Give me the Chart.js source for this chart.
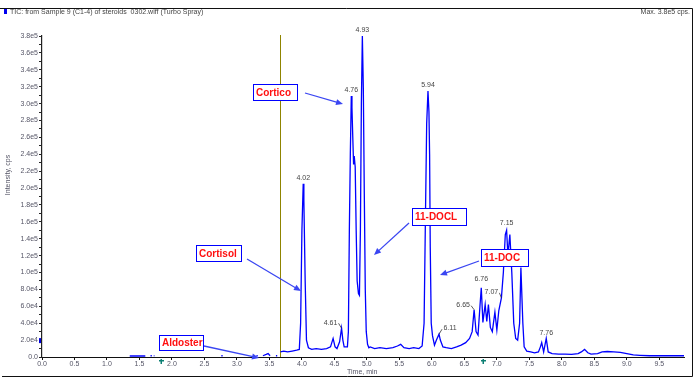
<!DOCTYPE html>
<html>
<head>
<meta charset="utf-8">
<script src="https://cdn.jsdelivr.net/npm/chart.js@4"></script>
<style>
  html, body { margin: 0; padding: 0; background: #fff; }
  #wrap { width: 699px; height: 384px; }
</style>
</head>
<body>
<div id="wrap"><canvas id="tic" width="699" height="384"></canvas></div>
<script>
// retention time (min) and intensity (cps); null = no trace drawn
const times = [
  1.35, 1.45, 1.59, 1.62, 1.67, 1.69, 1.70, 1.72, 1.73, 1.75, 2.76, 2.78, 2.80,
  3.30, 3.32, 3.35, 3.40, 3.45, 3.48, 3.51, 3.53, 3.60, 3.62, 3.64,
  3.67, 3.72, 3.78, 3.85, 3.92, 3.96, 3.98, 4.00, 4.02, 4.03, 4.05, 4.07,
  4.10, 4.15, 4.22, 4.30, 4.38, 4.44, 4.48, 4.51, 4.54, 4.58, 4.61, 4.63,
  4.65, 4.70, 4.715, 4.73, 4.745, 4.76, 4.77, 4.782, 4.795, 4.805, 4.82,
  4.835, 4.85, 4.87, 4.885, 4.90, 4.915, 4.93, 4.945, 4.96, 4.975, 4.99,
  5.01, 5.03, 5.05, 5.12, 5.20, 5.30, 5.40, 5.47, 5.52, 5.57, 5.65, 5.72,
  5.80, 5.85, 5.88, 5.90, 5.92, 5.94, 5.955, 5.965, 5.975, 5.99, 6.01,
  6.04, 6.07, 6.11, 6.13, 6.17, 6.22, 6.30, 6.38, 6.45, 6.52, 6.58, 6.62,
  6.65, 6.68, 6.71, 6.74, 6.76, 6.785, 6.82, 6.845, 6.87, 6.90, 6.93, 6.97,
  7.00, 7.03, 7.07, 7.10, 7.13, 7.15, 7.17, 7.20, 7.23, 7.26, 7.29, 7.32,
  7.35, 7.37, 7.40, 7.42, 7.46, 7.52, 7.58, 7.64, 7.67, 7.69, 7.72, 7.74,
  7.76, 7.79, 7.85, 7.95, 8.05, 8.15, 8.25, 8.30, 8.35, 8.40, 8.45, 8.55,
  8.62, 8.70, 8.80, 8.90, 9.00, 9.10, 9.20, 9.35, 9.50, 9.65, 9.80, 9.88
];
const intensities = [
  1200, 1200, 1200, null, 1500, 1500, null, 1500, 1500, null, 1500, 1500, null,
  1500, 1500, null, 1500, 3000, 4000, 1500, null, 1500, 1500, null,
  6000, 7000, 6000, 7000, 8000, 9000, 40000, 150000, 205000, 185000, 90000, 20000,
  11000, 9000, 10000, 9000, 10000, 12000, 22000, 12000, 10000, 18000, 34000, 20000,
  12000, 12000, 30000, 150000, 240000, 309000, 295000, 262000, 228000, 238000, 225000,
  150000, 90000, 75000, 73000, 150000, 300000, 380000, 318000, 193000, 80000, 30000,
  15000, 11000, 12000, 10000, 11000, 10000, 11000, 13000, 15000, 11000, 10000, 11000,
  10000, 13000, 40000, 160000, 276000, 315000, 290000, 240000, 130000, 40000, 25000,
  14000, 20000, 27000, 20000, 12000, 11000, 10000, 12000, 14000, 17000, 22000, 30000,
  56000, 30000, 26000, 60000, 82000, 41000, 62000, 42000, 62000, 35000, 30000, 53000,
  32000, 55000, 70000, 100000, 145000, 150000, 120000, 145000, 100000, 40000, 22000, 20000,
  40000, 106000, 40000, 12000, 7000, 6000, 5000, 6000, 12000, 17000, 6000, 14000,
  22000, 6000, 4000, 3500, 3500, 3000, 4000, 6000, 9000, 5000, 3500, 4000,
  6000, 6500, 6000, 5500, 4000, 2500, 2000, 1500, 1500, 1500, 1500, 1500
];

// x tick positions (min)
const timeTicks = [0, 0.5, 1, 1.5, 2, 2.5, 3, 3.5, 4, 4.5, 5, 5.5, 6, 6.5, 7, 7.5, 8, 8.5, 9, 9.5];

// labelled peak apexes
const peakTimes = [4.02, 4.61, 4.76, 4.93, 5.94, 6.11, 6.65, 6.76, 7.07, 7.15, 7.76];
const peakHeights = [205000, 34000, 309000, 380000, 315000, 27000, 56000, 82000, 70000, 150000, 22000];

const compounds = ['Aldoster', 'Cortisol', 'Cortico', '11-DOCL', '11-DOC'];
const markerTime = 3.67;

const FONT = '"Liberation Sans", Arial, sans-serif';

// pixel placement of the callout boxes and their arrows
const callouts = {
  'Aldoster': { box: [159, 335, 44, 15], from: [204, 346], to: [259, 358] },
  'Cortisol': { box: [196, 245, 45, 16], from: [247, 259], to: [301, 291] },
  'Cortico':  { box: [253, 84, 44, 16],  from: [305, 93],  to: [343, 104] },
  '11-DOCL':  { box: [412, 208, 54, 17], from: [409, 223], to: [374, 255] },
  '11-DOC':   { box: [481, 249, 47, 17], from: [479, 261], to: [440, 275] }
};
// label offsets from peak apex (dx, dy, leader side)
const peakLabelStyle = {
  4.61: { dx: -11, dy: 0, leader: 'right' },
  6.11: { dx: 11, dy: -1, leader: 'left' },
  6.65: { dx: -11, dy: 1, leader: 'right' },
  6.76: { dx: 0, dy: -3 },
  7.07: { dx: -10, dy: 0, leader: 'right' },
  7.15: { dx: 0, dy: -2 }
};

function arrow(ctx, x1, y1, x2, y2) {
  const a = Math.atan2(y2 - y1, x2 - x1);
  ctx.beginPath();
  ctx.moveTo(x1, y1);
  ctx.lineTo(x2 - 5 * Math.cos(a), y2 - 5 * Math.sin(a));
  ctx.stroke();
  ctx.beginPath();
  ctx.moveTo(x2, y2);
  ctx.lineTo(x2 - 7 * Math.cos(a) + 3 * Math.sin(a), y2 - 7 * Math.sin(a) - 3 * Math.cos(a));
  ctx.lineTo(x2 - 7 * Math.cos(a) - 3 * Math.sin(a), y2 - 7 * Math.sin(a) + 3 * Math.cos(a));
  ctx.closePath();
  ctx.fill();
}

const decorations = {
  id: 'decorations',
  beforeDatasetsDraw(chart) {
    const { ctx, scales: { x, y } } = chart;
    const px = Math.round(x.getPixelForValue(markerTime)) + 0.5;
    ctx.save();
    ctx.strokeStyle = '#8f8400';
    ctx.lineWidth = 1;
    ctx.beginPath();
    ctx.moveTo(px, y.top - 1);
    ctx.lineTo(px, y.bottom);
    ctx.stroke();
    ctx.restore();
  },
  afterDraw(chart) {
    const { ctx, scales: { x, y } } = chart;
    ctx.save();

    // frame
    ctx.strokeStyle = '#111';
    ctx.lineWidth = 1;
    ctx.beginPath();
    ctx.moveTo(0, 8.5); ctx.lineTo(692.5, 8.5); ctx.lineTo(692.5, 376.5); ctx.lineTo(2, 376.5);
    ctx.stroke();

    // header
    ctx.fillStyle = '#0000ee';
    ctx.fillRect(4, 9, 3, 5);
    ctx.font = '7px ' + FONT;
    ctx.fillStyle = '#444';
    ctx.textBaseline = 'middle';
    ctx.textAlign = 'left';
    ctx.fillText('TIC: from Sample 9 (C1-4) of steroids  0302.wiff (Turbo Spray)', 10, 12.5);
    ctx.textAlign = 'right';
    ctx.fillText('Max. 3.8e5 cps.', 690, 12.5);

    // axis titles
    ctx.fillStyle = '#556';
    ctx.textAlign = 'left';
    ctx.fillText('Time, min', 347, 372);
    ctx.save();
    ctx.translate(8, 175);
    ctx.rotate(-Math.PI / 2);
    ctx.textAlign = 'center';
    ctx.fillText('Intensity, cps', 0, 0);
    ctx.restore();

    // blue marker on y axis, teal markers on x axis
    ctx.fillStyle = '#0000dd';
    ctx.fillRect(39, y.getPixelForValue(20000) - 2, 2, 5);
    ctx.fillStyle = '#0b7f73';
    [1.83, 6.79].forEach(t => {
      const mx = Math.round(x.getPixelForValue(t));
      ctx.fillRect(mx - 2, 360, 5, 1.5);
      ctx.fillRect(mx - 0.5, 359, 1.5, 5);
    });

    // peak labels
    ctx.font = '7px ' + FONT;
    ctx.fillStyle = '#444';
    ctx.strokeStyle = '#333';
    ctx.lineWidth = 0.8;
    ctx.textAlign = 'center';
    ctx.textBaseline = 'bottom';
    peakTimes.forEach((t, i) => {
      const st = peakLabelStyle[t] || { dx: 0, dy: 0 };
      const px = x.getPixelForValue(t);
      const py = y.getPixelForValue(peakHeights[i]);
      const lx = px + st.dx;
      const ly = py - 2 + st.dy;
      ctx.fillText(t.toFixed(2), lx, ly);
      if (st.leader === 'right') {
        ctx.beginPath();
        ctx.moveTo(lx + 8, ly - 3);
        ctx.lineTo(px, py);
        ctx.stroke();
      } else if (st.leader === 'left') {
        ctx.beginPath();
        ctx.moveTo(lx - 8, ly - 2);
        ctx.lineTo(px, py);
        ctx.stroke();
      }
    });

    // compound callouts
    compounds.forEach(name => {
      const c = callouts[name];
      ctx.strokeStyle = '#3a46f2';
      ctx.fillStyle = '#3a46f2';
      ctx.lineWidth = 1.3;
      arrow(ctx, c.from[0], c.from[1], c.to[0], c.to[1]);
      const [bx, by, bw, bh] = c.box;
      ctx.fillStyle = '#fff';
      ctx.fillRect(bx, by, bw, bh);
      ctx.strokeStyle = '#0000ff';
      ctx.lineWidth = 1;
      ctx.strokeRect(bx + 0.5, by + 0.5, bw, bh);
      ctx.fillStyle = '#ff1010';
      ctx.font = 'bold 10px ' + FONT;
      ctx.textAlign = 'left';
      ctx.textBaseline = 'middle';
      ctx.fillText(name, bx + 3, by + bh / 2 + 1);
    });

    ctx.restore();
  }
};

new Chart(document.getElementById('tic'), {
  type: 'line',
  data: {
    datasets: [{
      data: times.map((t, i) => ({ x: t, y: intensities[i] })),
      borderColor: '#0000ff',
      borderWidth: 1.3,
      pointRadius: 0,
      tension: 0,
      spanGaps: false,
      clip: false
    }]
  },
  options: {
    responsive: false,
    animation: false,
    events: [],
    layout: { padding: { top: 36, right: 15, bottom: 9, left: 0 } },
    plugins: { legend: { display: false }, tooltip: { enabled: false } },
    scales: {
      x: {
        type: 'linear',
        min: 0,
        max: 9.88,
        afterFit: s => { s.height = 18; },
        afterBuildTicks: s => {
          s.ticks = timeTicks.map(v => ({ value: v }));
        },
        border: { color: '#111', width: 1 },
        grid: { drawOnChartArea: false, drawTicks: true, tickLength: 3, color: '#111' },
        ticks: {
          autoSkip: false,
          maxRotation: 0,
          padding: 0,
          color: '#556',
          font: { family: FONT, size: 7 },
          callback: v => v.toFixed(1)
        }
      },
      y: {
        min: 0,
        max: 380000,
        afterFit: s => { s.width = 42; },
        border: { color: '#222', width: 1.2 },
        grid: { drawOnChartArea: false, drawTicks: true, tickLength: 3, color: '#222' },
        ticks: {
          stepSize: 10000,
          autoSkip: false,
          padding: 1,
          color: '#556',
          font: { family: FONT, size: 7 },
          callback: v => v % 20000 !== 0 ? '' : (v === 0 ? '0.0' : v.toExponential(1).replace('e+', 'e'))
        }
      }
    }
  },
  plugins: [decorations]
});
</script>
</body>
</html>
